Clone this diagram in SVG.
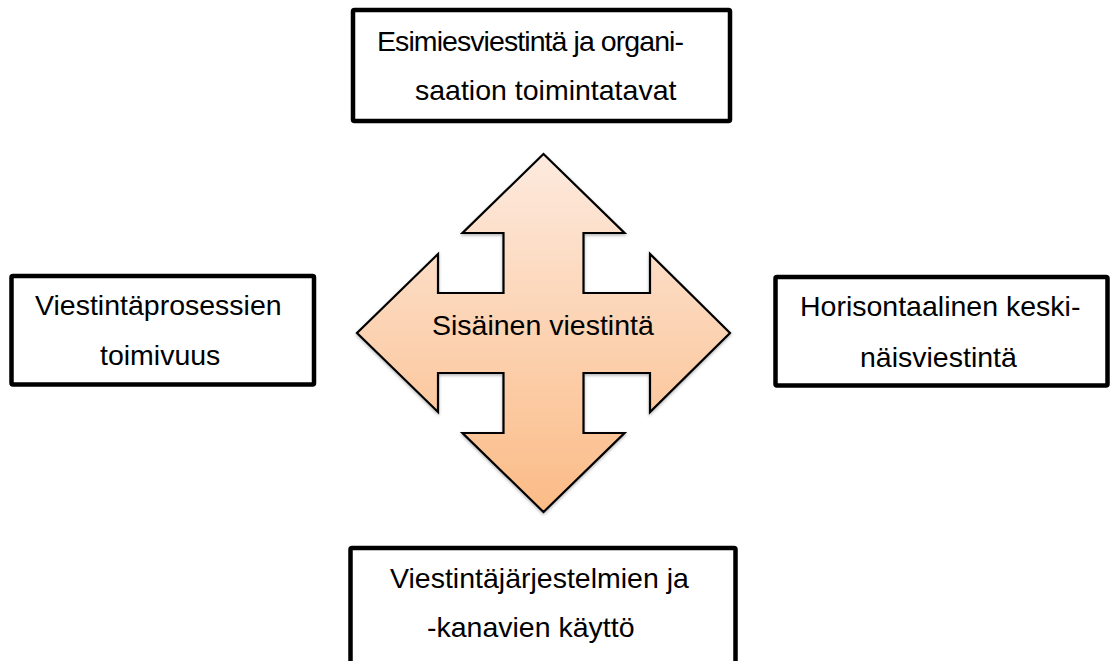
<svg xmlns="http://www.w3.org/2000/svg" width="1111" height="661" viewBox="0 0 1111 661">
  <style>
    .box { fill: #ffffff; stroke: #000000; stroke-width: 4.5; }
    .lbl { font-family: "Liberation Sans", Arial, sans-serif; font-size: 28.5px; fill: #000000; }
  </style>
  <defs>
    <linearGradient id="peach" x1="0" y1="0" x2="0" y2="1">
      <stop offset="0" stop-color="#fdeade"/>
      <stop offset="1" stop-color="#fbbb86"/>
    </linearGradient>
    <filter id="shadow" x="-10%" y="-10%" width="120%" height="120%">
      <feDropShadow dx="0" dy="1.5" stdDeviation="1.5" flood-color="#000000" flood-opacity="0.3"/>
    </filter>
  </defs>
  <rect width="1111" height="661" fill="#ffffff"/>

  <g id="connectors"></g>

  <g id="center">
    <polygon filter="url(#shadow)" fill="url(#peach)" stroke="#000000" stroke-width="2.2" stroke-linejoin="miter"
      points="543.5,154 624.5,233 583.5,233 583.5,293 650,293 650,254 730,333 650,412 650,373 583.5,373 583.5,433 624.5,433 543.5,512 462.5,433 503.5,433 503.5,373 438,373 438,412 357,333 438,254 438,293 503.5,293 503.5,233 462.5,233"/>
    <text class="lbl" x="432" y="335">Sisäinen viestintä</text>
  </g>

  <g id="top">
    <rect class="box" x="353" y="10" width="377" height="111" rx="1.5"/>
    <text class="lbl" x="377" y="51" textLength="307" lengthAdjust="spacing">Esimiesviestintä ja organi-</text>
    <text class="lbl" x="415" y="100">saation toimintatavat</text>
  </g>

  <g id="left">
    <rect class="box" x="11.5" y="276" width="302.5" height="108.5" rx="1.5"/>
    <text class="lbl" x="35" y="315">Viestintäprosessien</text>
    <text class="lbl" x="100" y="365">toimivuus</text>
  </g>

  <g id="right">
    <rect class="box" x="775.5" y="277" width="332" height="108.5" rx="1.5"/>
    <text class="lbl" x="800" y="316">Horisontaalinen keski-</text>
    <text class="lbl" x="860" y="367">näisviestintä</text>
  </g>

  <g id="bottom">
    <rect class="box" x="350.5" y="548" width="385" height="130" rx="1.5"/>
    <text class="lbl" x="390" y="588">Viestintäjärjestelmien ja</text>
    <text class="lbl" x="427" y="637">-kanavien käyttö</text>
  </g>
</svg>
